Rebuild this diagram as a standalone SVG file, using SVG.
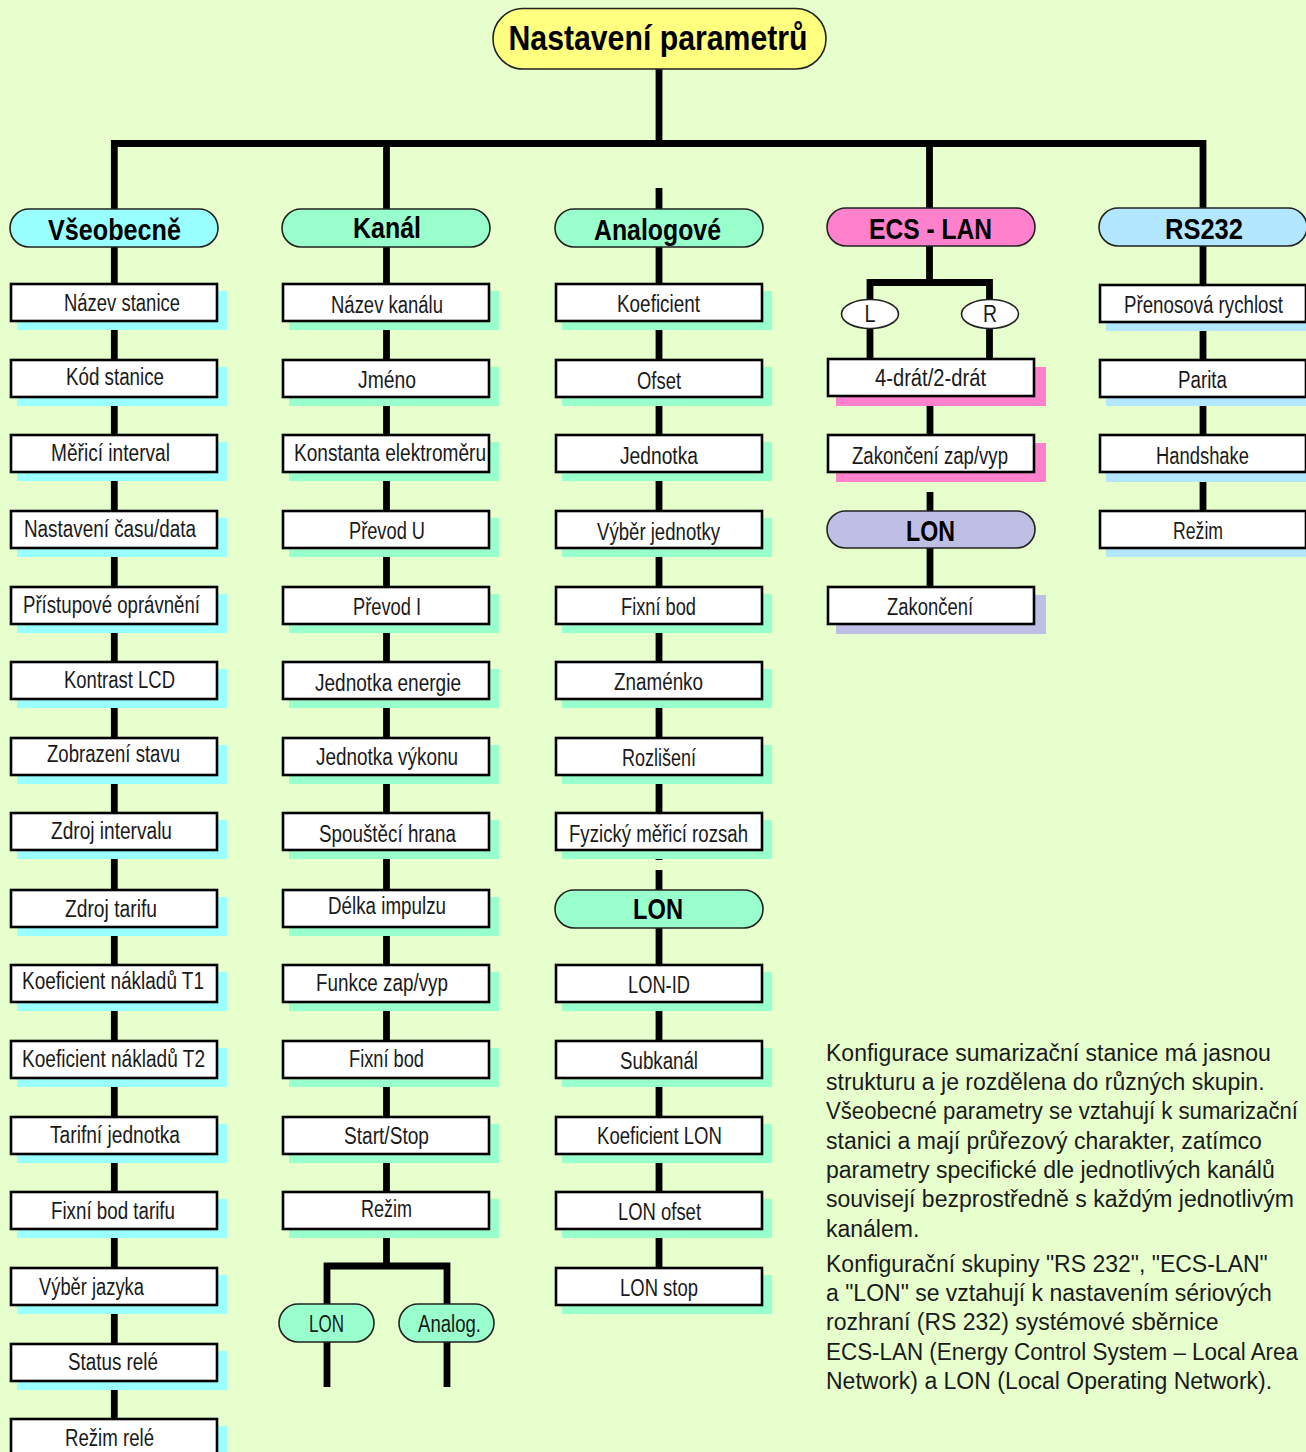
<svg xmlns="http://www.w3.org/2000/svg" width="1306" height="1452" viewBox="0 0 1306 1452">
<style>
.bg{fill:#E6FFCC}
.ln{fill:none;stroke:#000;stroke-width:6.8;stroke-linejoin:miter;stroke-linecap:butt}
.box{fill:#fff;stroke:#000;stroke-width:2.6}
.pill{stroke:#222;stroke-width:1.6}
.ell{fill:#fff;stroke:#222;stroke-width:1.6}
.t{font-family:"Liberation Sans",Arial,sans-serif;font-size:23px;fill:#1a1a1a;text-anchor:middle}
.h{font-family:"Liberation Sans",Arial,sans-serif;font-size:30px;font-weight:bold;fill:#000;text-anchor:middle}
.ti{font-family:"Liberation Sans",Arial,sans-serif;font-size:35px;font-weight:bold;fill:#000;text-anchor:middle}
.p{font-family:"Liberation Sans",Arial,sans-serif;font-size:23px;fill:#1a1a1a}
.sv{fill:#99FFFF}.sk{fill:#99FFCC}.se{fill:#FF80CC}.sr{fill:#B3E6FF}.sl{fill:#BFBFE6}
</style>
<rect class="bg" x="0" y="0" width="1306" height="1452"/>

<g id="connectors">
<path class="ln" d="M659,69 V143.5"/>
<path class="ln" d="M114.3,209 V143.5 H1203 V209"/>
<path class="ln" d="M386.5,143.5 V209"/>
<path class="ln" d="M929.5,143.5 V209"/>
<path class="ln" d="M659,188 V209"/>
<path class="ln" d="M114.3,247 V1452"/>
<path class="ln" d="M386.5,247 V1266"/>
<path class="ln" d="M327,1304 V1266 H447 V1304"/>
<path class="ln" d="M327,1342 V1387 M447,1342 V1387"/>
<path class="ln" d="M659,247 V860"/>
<path class="ln" d="M659,870 V1300"/>
<path class="ln" d="M929.5,246 V282.5"/>
<path class="ln" d="M870,358 V282.5 H989.5 V358"/>
<path class="ln" d="M930,397 V434"/>
<path class="ln" d="M930,492 V586"/>
<path class="ln" d="M1203,246 V549"/>
</g>

<g id="title"><rect x="493" y="8.5" width="333" height="60.5" rx="30.25" fill="#FFFF80" class="pill"/><text class="ti" x="658" y="50" textLength="299" lengthAdjust="spacingAndGlyphs">Nastavení parametrů</text></g>

<g id="hdr-vseobecne"><rect x="10" y="209" width="208" height="38" rx="19" fill="#99FFFF" class="pill"/><text class="h" x="114.5" y="239.5" textLength="133" lengthAdjust="spacingAndGlyphs">Všeobecně</text></g>
<g id="hdr-kanal"><rect x="282" y="209" width="208" height="38" rx="19" fill="#99FFCC" class="pill"/><text class="h" x="387" y="237.5" textLength="68" lengthAdjust="spacingAndGlyphs">Kanál</text></g>
<g id="hdr-analog"><rect x="555" y="209" width="208" height="38" rx="19" fill="#99FFCC" class="pill"/><text class="h" x="657.5" y="239.5" textLength="127" lengthAdjust="spacingAndGlyphs">Analogové</text></g>
<g id="hdr-ecs"><rect x="827" y="208" width="208" height="38" rx="19" fill="#FF80CC" class="pill"/><text class="h" x="930.5" y="238.5" textLength="123" lengthAdjust="spacingAndGlyphs">ECS - LAN</text></g>
<g id="hdr-rs232"><rect x="1099" y="208" width="208" height="38" rx="19" fill="#B3E6FF" class="pill"/><text class="h" x="1204" y="238.5" textLength="78" lengthAdjust="spacingAndGlyphs">RS232</text></g>

<!-- Všeobecně column -->
<g id="v0"><rect class="sv" x="17" y="291" width="210" height="39"/><rect class="box" x="11" y="284" width="206" height="37"/><text class="t" x="122" y="310.5" textLength="116" lengthAdjust="spacingAndGlyphs">Název stanice</text></g>
<g id="v1"><rect class="sv" x="17" y="367" width="210" height="39"/><rect class="box" x="11" y="360" width="206" height="37"/><text class="t" x="115" y="384.5" textLength="98" lengthAdjust="spacingAndGlyphs">Kód stanice</text></g>
<g id="v2"><rect class="sv" x="17" y="442" width="210" height="39"/><rect class="box" x="11" y="435" width="206" height="37"/><text class="t" x="110.5" y="460.5" textLength="119" lengthAdjust="spacingAndGlyphs">Měřicí interval</text></g>
<g id="v3"><rect class="sv" x="17" y="518" width="210" height="39"/><rect class="box" x="11" y="511" width="206" height="37"/><text class="t" x="110" y="536.5" textLength="172" lengthAdjust="spacingAndGlyphs">Nastavení času/data</text></g>
<g id="v4"><rect class="sv" x="17" y="594" width="210" height="39"/><rect class="box" x="11" y="587" width="206" height="37"/><text class="t" x="111.5" y="612.5" textLength="177" lengthAdjust="spacingAndGlyphs">Přístupové oprávnění</text></g>
<g id="v5"><rect class="sv" x="17" y="669" width="210" height="39"/><rect class="box" x="11" y="662" width="206" height="37"/><text class="t" x="119.5" y="687.5" textLength="111" lengthAdjust="spacingAndGlyphs">Kontrast LCD</text></g>
<g id="v6"><rect class="sv" x="17" y="745" width="210" height="39"/><rect class="box" x="11" y="738" width="206" height="37"/><text class="t" x="113.5" y="761.5" textLength="133" lengthAdjust="spacingAndGlyphs">Zobrazení stavu</text></g>
<g id="v7"><rect class="sv" x="17" y="820" width="210" height="39"/><rect class="box" x="11" y="813" width="206" height="37"/><text class="t" x="111.5" y="838.5" textLength="121" lengthAdjust="spacingAndGlyphs">Zdroj intervalu</text></g>
<g id="v8"><rect class="sv" x="17" y="897" width="210" height="39"/><rect class="box" x="11" y="890" width="206" height="37"/><text class="t" x="111" y="916.5" textLength="92" lengthAdjust="spacingAndGlyphs">Zdroj tarifu</text></g>
<g id="v9"><rect class="sv" x="17" y="972" width="210" height="39"/><rect class="box" x="11" y="965" width="206" height="37"/><text class="t" x="113" y="988.5" textLength="182" lengthAdjust="spacingAndGlyphs">Koeficient nákladů T1</text></g>
<g id="v10"><rect class="sv" x="17" y="1048" width="210" height="39"/><rect class="box" x="11" y="1041" width="206" height="37"/><text class="t" x="113.5" y="1066.5" textLength="183" lengthAdjust="spacingAndGlyphs">Koeficient nákladů T2</text></g>
<g id="v11"><rect class="sv" x="17" y="1124" width="210" height="39"/><rect class="box" x="11" y="1117" width="206" height="37"/><text class="t" x="115" y="1142.5" textLength="130" lengthAdjust="spacingAndGlyphs">Tarifní jednotka</text></g>
<g id="v12"><rect class="sv" x="17" y="1199" width="210" height="39"/><rect class="box" x="11" y="1192" width="206" height="37"/><text class="t" x="113" y="1218.5" textLength="124" lengthAdjust="spacingAndGlyphs">Fixní bod tarifu</text></g>
<g id="v13"><rect class="sv" x="17" y="1275" width="210" height="39"/><rect class="box" x="11" y="1268" width="206" height="37"/><text class="t" x="91.5" y="1294.5" textLength="105" lengthAdjust="spacingAndGlyphs">Výběr jazyka</text></g>
<g id="v14"><rect class="sv" x="17" y="1351" width="210" height="39"/><rect class="box" x="11" y="1344" width="206" height="37"/><text class="t" x="113" y="1369.5" textLength="90" lengthAdjust="spacingAndGlyphs">Status relé</text></g>
<g id="v15"><rect class="sv" x="17" y="1426" width="210" height="39"/><rect class="box" x="11" y="1419" width="206" height="37"/><text class="t" x="109.5" y="1445.5" textLength="89" lengthAdjust="spacingAndGlyphs">Režim relé</text></g>

<!-- Kanál column -->
<g id="k0"><rect class="sk" x="289" y="291" width="210" height="39"/><rect class="box" x="283" y="284" width="206" height="37"/><text class="t" x="387" y="312.5" textLength="112" lengthAdjust="spacingAndGlyphs">Název kanálu</text></g>
<g id="k1"><rect class="sk" x="289" y="367" width="210" height="39"/><rect class="box" x="283" y="360" width="206" height="37"/><text class="t" x="387" y="387.5" textLength="58" lengthAdjust="spacingAndGlyphs">Jméno</text></g>
<g id="k2"><rect class="sk" x="289" y="442" width="210" height="39"/><rect class="box" x="283" y="435" width="206" height="37"/><text class="t" x="390" y="460.5" textLength="192" lengthAdjust="spacingAndGlyphs">Konstanta elektroměru</text></g>
<g id="k3"><rect class="sk" x="289" y="518" width="210" height="39"/><rect class="box" x="283" y="511" width="206" height="37"/><text class="t" x="387" y="538.5" textLength="76" lengthAdjust="spacingAndGlyphs">Převod U</text></g>
<g id="k4"><rect class="sk" x="289" y="594" width="210" height="39"/><rect class="box" x="283" y="587" width="206" height="37"/><text class="t" x="387" y="614.5" textLength="68" lengthAdjust="spacingAndGlyphs">Převod I</text></g>
<g id="k5"><rect class="sk" x="289" y="669" width="210" height="39"/><rect class="box" x="283" y="662" width="206" height="37"/><text class="t" x="388" y="690.5" textLength="146" lengthAdjust="spacingAndGlyphs">Jednotka energie</text></g>
<g id="k6"><rect class="sk" x="289" y="745" width="210" height="39"/><rect class="box" x="283" y="738" width="206" height="37"/><text class="t" x="387" y="764.5" textLength="142" lengthAdjust="spacingAndGlyphs">Jednotka výkonu</text></g>
<g id="k7"><rect class="sk" x="289" y="820" width="210" height="39"/><rect class="box" x="283" y="813" width="206" height="37"/><text class="t" x="387.5" y="841.5" textLength="137" lengthAdjust="spacingAndGlyphs">Spouštěcí hrana</text></g>
<g id="k8"><rect class="sk" x="289" y="897" width="210" height="39"/><rect class="box" x="283" y="890" width="206" height="37"/><text class="t" x="387" y="913.5" textLength="118" lengthAdjust="spacingAndGlyphs">Délka impulzu</text></g>
<g id="k9"><rect class="sk" x="289" y="972" width="210" height="39"/><rect class="box" x="283" y="965" width="206" height="37"/><text class="t" x="382" y="990.5" textLength="132" lengthAdjust="spacingAndGlyphs">Funkce zap/vyp</text></g>
<g id="k10"><rect class="sk" x="289" y="1048" width="210" height="39"/><rect class="box" x="283" y="1041" width="206" height="37"/><text class="t" x="386.5" y="1066.5" textLength="75" lengthAdjust="spacingAndGlyphs">Fixní bod</text></g>
<g id="k11"><rect class="sk" x="289" y="1124" width="210" height="39"/><rect class="box" x="283" y="1117" width="206" height="37"/><text class="t" x="386.5" y="1143.5" textLength="85" lengthAdjust="spacingAndGlyphs">Start/Stop</text></g>
<g id="k12"><rect class="sk" x="289" y="1199" width="210" height="39"/><rect class="box" x="283" y="1192" width="206" height="37"/><text class="t" x="386.5" y="1216.5" textLength="51" lengthAdjust="spacingAndGlyphs">Režim</text></g>
<g id="k-lon"><rect x="279" y="1304" width="95" height="38" rx="19" fill="#99FFCC" class="pill"/><text class="t" x="326.5" y="1332" textLength="35" lengthAdjust="spacingAndGlyphs">LON</text></g>
<g id="k-analog"><rect x="399" y="1304" width="95" height="38" rx="19" fill="#99FFCC" class="pill"/><text class="t" x="449.5" y="1332" textLength="63" lengthAdjust="spacingAndGlyphs">Analog.</text></g>

<!-- Analogové column -->
<g id="a0"><rect class="sk" x="562" y="291" width="210" height="39"/><rect class="box" x="556" y="284" width="206" height="37"/><text class="t" x="658.5" y="311.5" textLength="83" lengthAdjust="spacingAndGlyphs">Koeficient</text></g>
<g id="a1"><rect class="sk" x="562" y="367" width="210" height="39"/><rect class="box" x="556" y="360" width="206" height="37"/><text class="t" x="659" y="388.5" textLength="44" lengthAdjust="spacingAndGlyphs">Ofset</text></g>
<g id="a2"><rect class="sk" x="562" y="442" width="210" height="39"/><rect class="box" x="556" y="435" width="206" height="37"/><text class="t" x="659" y="463.5" textLength="78" lengthAdjust="spacingAndGlyphs">Jednotka</text></g>
<g id="a3"><rect class="sk" x="562" y="518" width="210" height="39"/><rect class="box" x="556" y="511" width="206" height="37"/><text class="t" x="658.5" y="539.5" textLength="123" lengthAdjust="spacingAndGlyphs">Výběr jednotky</text></g>
<g id="a4"><rect class="sk" x="562" y="594" width="210" height="39"/><rect class="box" x="556" y="587" width="206" height="37"/><text class="t" x="658.5" y="614.5" textLength="75" lengthAdjust="spacingAndGlyphs">Fixní bod</text></g>
<g id="a5"><rect class="sk" x="562" y="669" width="210" height="39"/><rect class="box" x="556" y="662" width="206" height="37"/><text class="t" x="658.5" y="689.5" textLength="89" lengthAdjust="spacingAndGlyphs">Znaménko</text></g>
<g id="a6"><rect class="sk" x="562" y="745" width="210" height="39"/><rect class="box" x="556" y="738" width="206" height="37"/><text class="t" x="659" y="765.5" textLength="74" lengthAdjust="spacingAndGlyphs">Rozlišení</text></g>
<g id="a7"><rect class="sk" x="562" y="820" width="210" height="39"/><rect class="box" x="556" y="813" width="206" height="37"/><text class="t" x="658.5" y="841.5" textLength="179" lengthAdjust="spacingAndGlyphs">Fyzický měřicí rozsah</text></g>
<g id="a-lon"><rect x="555" y="890" width="208" height="38" rx="19" fill="#99FFCC" class="pill"/><text class="h" x="658" y="918.5" textLength="50" lengthAdjust="spacingAndGlyphs">LON</text></g>
<g id="a9"><rect class="sk" x="562" y="972" width="210" height="39"/><rect class="box" x="556" y="965" width="206" height="37"/><text class="t" x="659" y="992.5" textLength="62" lengthAdjust="spacingAndGlyphs">LON-ID</text></g>
<g id="a10"><rect class="sk" x="562" y="1048" width="210" height="39"/><rect class="box" x="556" y="1041" width="206" height="37"/><text class="t" x="659" y="1068.5" textLength="78" lengthAdjust="spacingAndGlyphs">Subkanál</text></g>
<g id="a11"><rect class="sk" x="562" y="1124" width="210" height="39"/><rect class="box" x="556" y="1117" width="206" height="37"/><text class="t" x="659.5" y="1143.5" textLength="125" lengthAdjust="spacingAndGlyphs">Koeficient LON</text></g>
<g id="a12"><rect class="sk" x="562" y="1199" width="210" height="39"/><rect class="box" x="556" y="1192" width="206" height="37"/><text class="t" x="659.5" y="1219.5" textLength="83" lengthAdjust="spacingAndGlyphs">LON ofset</text></g>
<g id="a13"><rect class="sk" x="562" y="1275" width="210" height="39"/><rect class="box" x="556" y="1268" width="206" height="37"/><text class="t" x="659" y="1295.5" textLength="78" lengthAdjust="spacingAndGlyphs">LON stop</text></g>

<!-- ECS - LAN column -->
<g id="e-l"><ellipse class="ell" cx="870" cy="314" rx="28.5" ry="14.5"/><text class="t" x="870" y="322" textLength="11" lengthAdjust="spacingAndGlyphs">L</text></g>
<g id="e-r"><ellipse class="ell" cx="990" cy="314" rx="28.5" ry="14.5"/><text class="t" x="990" y="322" textLength="14" lengthAdjust="spacingAndGlyphs">R</text></g>
<g id="e0"><rect class="se" x="836" y="367" width="210" height="39"/><rect class="box" x="828" y="359" width="206" height="37"/><text class="t" x="930.5" y="385.5" textLength="111" lengthAdjust="spacingAndGlyphs">4-drát/2-drát</text></g>
<g id="e1"><rect class="se" x="836" y="443" width="210" height="39"/><rect class="box" x="828" y="435" width="206" height="37"/><text class="t" x="930" y="463.5" textLength="156" lengthAdjust="spacingAndGlyphs">Zakončení zap/vyp</text></g>
<g id="e-lon"><rect x="827" y="511" width="208" height="37" rx="18.5" fill="#BFBFE6" class="pill"/><text class="h" x="930.5" y="541" textLength="49" lengthAdjust="spacingAndGlyphs">LON</text></g>
<g id="e2"><rect class="sl" x="836" y="595" width="210" height="39"/><rect class="box" x="828" y="587" width="206" height="37"/><text class="t" x="930" y="614.5" textLength="86" lengthAdjust="spacingAndGlyphs">Zakončení</text></g>

<!-- RS232 column -->
<g id="r0"><rect class="sr" x="1106" y="292" width="210" height="39"/><rect class="box" x="1100" y="285" width="206" height="37"/><text class="t" x="1203.5" y="312.5" textLength="159" lengthAdjust="spacingAndGlyphs">Přenosová rychlost</text></g>
<g id="r1"><rect class="sr" x="1106" y="367" width="210" height="39"/><rect class="box" x="1100" y="360" width="206" height="37"/><text class="t" x="1202.5" y="387.5" textLength="49" lengthAdjust="spacingAndGlyphs">Parita</text></g>
<g id="r2"><rect class="sr" x="1106" y="443" width="210" height="39"/><rect class="box" x="1100" y="435" width="206" height="37"/><text class="t" x="1202.5" y="463.5" textLength="93" lengthAdjust="spacingAndGlyphs">Handshake</text></g>
<g id="r3"><rect class="sr" x="1106" y="518" width="210" height="39"/><rect class="box" x="1100" y="511" width="206" height="37"/><text class="t" x="1198" y="538.5" textLength="50" lengthAdjust="spacingAndGlyphs">Režim</text></g>

<g id="description">
<text class="p" x="826" y="1060.7">Konfigurace sumarizační stanice má jasnou</text>
<text class="p" x="826" y="1090">strukturu a je rozdělena do různých skupin.</text>
<text class="p" x="826" y="1119.3" font-size="22.5" textLength="472" lengthAdjust="spacingAndGlyphs">Všeobecné parametry se vztahují k sumarizační</text>
<text class="p" x="826" y="1148.6">stanici a mají průřezový charakter, zatímco</text>
<text class="p" x="826" y="1178">parametry specifické dle jednotlivých kanálů</text>
<text class="p" x="826" y="1207.3">souvisejí bezprostředně s každým jednotlivým</text>
<text class="p" x="826" y="1236.6">kanálem.</text>
<text class="p" x="826" y="1271.7">Konfigurační skupiny "RS 232", "ECS-LAN"</text>
<text class="p" x="826" y="1301">a "LON" se vztahují k nastavením sériových</text>
<text class="p" x="826" y="1330.3">rozhraní (RS 232) systémové sběrnice</text>
<text class="p" x="826" y="1359.6" font-size="22.5" textLength="472" lengthAdjust="spacingAndGlyphs">ECS-LAN (Energy Control System – Local Area</text>
<text class="p" x="826" y="1389">Network) a LON (Local Operating Network).</text>
</g>
</svg>
